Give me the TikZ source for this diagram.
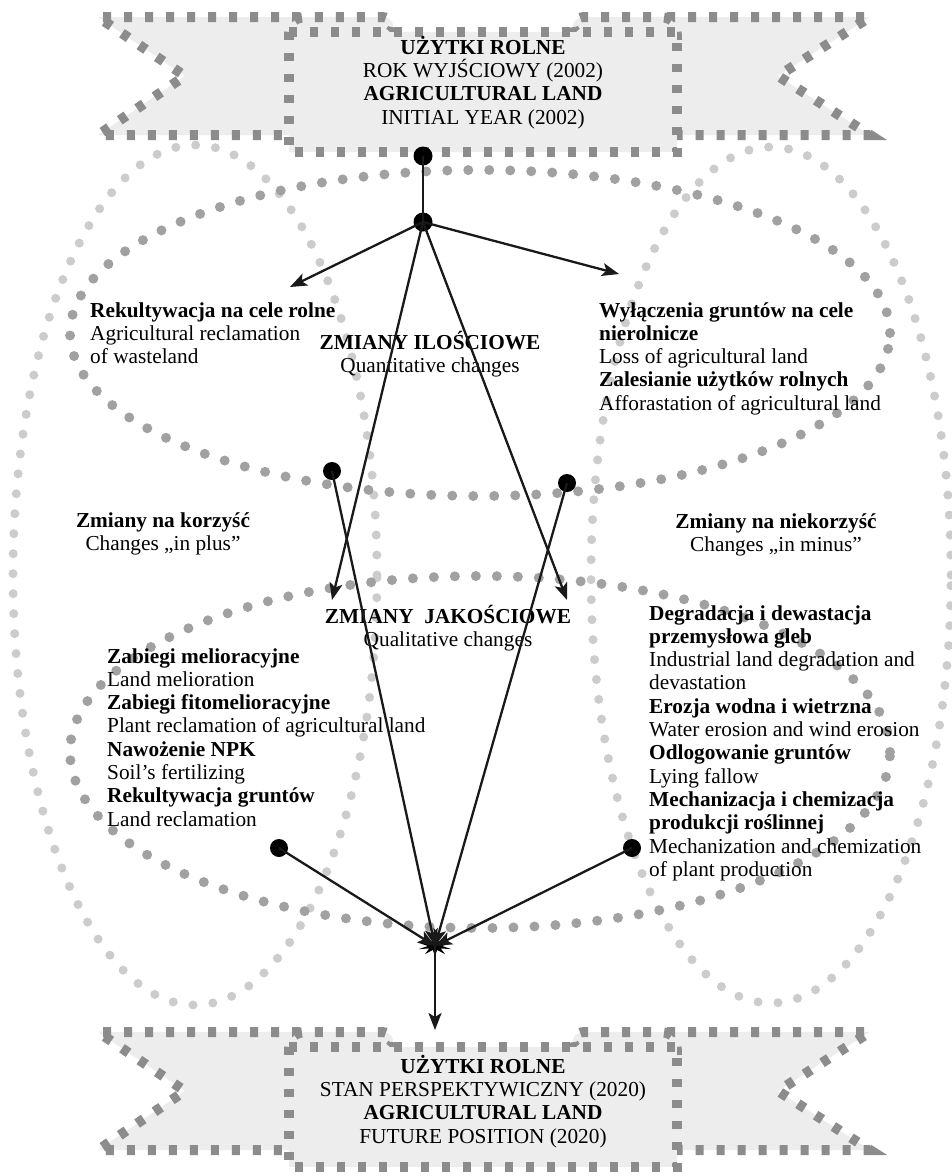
\documentclass[tikz,border=0pt]{standalone}
\usepackage{fontspec}
\setmainfont{Liberation Serif}
\usetikzlibrary{arrows.meta,shapes.geometric}
\begin{document}
\begin{tikzpicture}[x=1pt,y=-1pt,
  darkdots/.style={draw=black!37, line width=10pt, line cap=round, dash pattern=on 0pt off 21pt},
  lightdots/.style={draw=black!20, line width=9pt, line cap=round, dash pattern=on 0pt off 20pt},
  bannerline/.style={draw=black!45, line width=10pt, dash pattern=on 8pt off 13pt},
  bannerfill/.style={fill=black!7},
  hub/.style={circle, fill=black, inner sep=0pt, minimum size=19pt},
  conn/.style={line width=2.3pt, draw=black!90},
  arr/.style={conn, -{Stealth[length=17pt,width=13pt,inset=4pt]}},
  txt/.style={inner sep=0pt, align=left, font=\fontsize{21.3}{23.3}\selectfont},
  ctxt/.style={inner sep=0pt, align=center, font=\fontsize{21.3}{23.3}\selectfont},
]
\useasboundingbox (0,0) rectangle (951,1176);
\fill[white] (0,0) rectangle (951,1176);

% dotted ellipses
\draw[lightdots] (195,575) ellipse [x radius=182pt, y radius=430pt];
\draw[lightdots] (771,575) ellipse [x radius=180pt, y radius=428pt];
\draw[darkdots] (480,333) ellipse [x radius=410pt, y radius=163pt];
\draw[darkdots] (480,752) ellipse [x radius=410pt, y radius=176pt];

% banners
\foreach \dy in {0,1015}{
\begin{scope}[shift={(0,\dy)}]
  \fill[bannerfill] (98,17) -- (330,17) -- (330,135) -- (98,135) -- (185,76) -- cycle;
  \fill[bannerfill] (870,17) -- (640,17) -- (640,135) -- (870,135) -- (778,76) -- cycle;
  \draw[bannerline] (300,17) -- (98,17) -- (185,76) -- (98,135) -- (289,135);
  \draw[bannerline] (667,17) -- (870,17) -- (778,76) -- (870,135) -- (677,135);
  \fill[bannerfill] (289,40) .. controls (289,20) and (295,17) .. (310,17) -- (380,17) .. controls (395,17) and (395,28) .. (390,32) -- cycle;
  \fill[bannerfill] (677,40) .. controls (677,20) and (671,17) .. (656,17) -- (586,17) .. controls (571,17) and (571,28) .. (576,32) -- cycle;
  \draw[bannerline] (289,40) .. controls (289,20) and (295,17) .. (310,17) -- (380,17) .. controls (395,17) and (395,28) .. (390,32);
  \draw[bannerline] (677,40) .. controls (677,20) and (671,17) .. (656,17) -- (586,17) .. controls (571,17) and (571,28) .. (576,32);
  \draw[bannerfill, bannerline] (289,32) rectangle (677,152);
\end{scope}
}
\node[ctxt, anchor=base] (topb) at (483,124) {\textbf{UŻYTKI ROLNE}\\ROK WYJŚCIOWY (2002)\\\textbf{AGRICULTURAL LAND}\\INITIAL YEAR (2002)};
\node[ctxt, anchor=base] (botb) at (483,1143) {\textbf{UŻYTKI ROLNE}\\STAN PERSPEKTYWICZNY (2020)\\\textbf{AGRICULTURAL LAND}\\FUTURE POSITION (2020)};

% texts
\node[txt, anchor=base west] (rek) at (90,363.6) {\textbf{Rekultywacja na cele rolne}\\Agricultural reclamation\\of wasteland};
\node[ctxt, anchor=base] (ilo) at (430,372.3) {\textbf{ZMIANY ILOŚCIOWE}\\Quantitative changes};
\node[txt, anchor=base west] (wyl) at (599,410.2) {\textbf{Wyłączenia gruntów na cele}\\\textbf{nierolnicze}\\Loss of agricultural land\\\textbf{Zalesianie użytków rolnych}\\Afforastation of agricultural land};
\node[ctxt, anchor=base] (plus) at (163,550.3) {\textbf{Zmiany na korzyść}\\Changes „in plus”};
\node[ctxt, anchor=base] (minus) at (776,551.3) {\textbf{Zmiany na niekorzyść}\\Changes „in minus”};
\node[ctxt, anchor=base] (jak) at (448,646.3) {\textbf{ZMIANY\ \ JAKOŚCIOWE}\\Qualitative changes};
\node[txt, anchor=base west] (lq) at (107,826.1) {\textbf{Zabiegi melioracyjne}\\Land melioration\\\textbf{Zabiegi fitomelioracyjne}\\Plant reclamation of agricultural land\\\textbf{Nawożenie NPK}\\Soil's fertilizing\\\textbf{Rekultywacja gruntów}\\Land reclamation};
\node[txt, anchor=base west] (rq) at (649,876.3) {\textbf{Degradacja i dewastacja}\\\textbf{przemysłowa gleb}\\Industrial land degradation and\\devastation\\\textbf{Erozja wodna i wietrzna}\\Water erosion and wind erosion\\\textbf{Odlogowanie gruntów}\\Lying fallow\\\textbf{Mechanizacja i chemizacja}\\\textbf{produkcji roślinnej}\\Mechanization and chemization\\of plant production};

% hubs and connectors
\node[hub] (a) at (423,156) {};
\node[hub] (b) at (423,222) {};
\node[hub, minimum size=18pt] (c) at (332,471) {};
\node[hub, minimum size=18pt] (d) at (567,483) {};
\node[hub, minimum size=18pt] (e) at (279,848) {};
\node[hub, minimum size=18pt] (f) at (632,848) {};
\node[star, star points=10, star point ratio=2.4, fill=black, inner sep=0pt, minimum size=20pt, xscale=1.7] (s) at (435,946) {};
\coordinate (tl) at (290,287);
\coordinate (tr) at (619,274);
\coordinate (dl) at (332,600);
\coordinate (dr) at (567,600);
\coordinate (bt) at (435,1030);

\draw[conn] (a.center) -- (b.center);
\draw[arr] (b.center) -- (tl);
\draw[arr] (b.center) -- (tr);
\draw[arr] (b.center) -- (dl);
\draw[arr] (b.center) -- (dr);
\draw[arr] (c.center) -- (s.center);
\draw[arr] (d.center) -- (s.center);
\draw[arr] (e.center) -- (s.center);
\draw[arr] (f.center) -- (s.center);
\draw[arr] (s.center) -- (bt);
\end{tikzpicture}
\end{document}
